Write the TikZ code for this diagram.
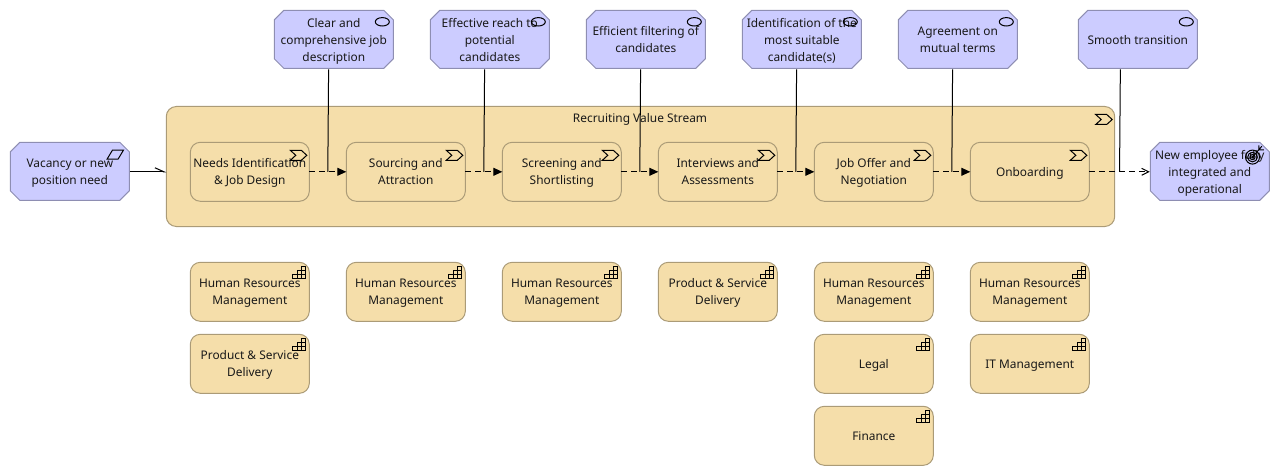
\documentclass[tikz,border=0pt]{standalone}
\usepackage{fontspec}
\setmainfont{Noto Sans}
\usepackage{xcolor}
\usepackage{tikz}
\usetikzlibrary{arrows.meta,positioning,calc}

\definecolor{bluefill}{HTML}{CCCCFF}
\definecolor{blueline}{HTML}{8E8EB2}
\definecolor{sandfill}{HTML}{F5DEAA}
\definecolor{sandline}{HTML}{AB9B77}

\begin{document}
\begin{tikzpicture}[
    x=1pt, y=-1pt,
    line width=1pt,
    every node/.style={font=\fontsize{11.9}{17}\selectfont, align=center, inner sep=0pt, outer sep=0pt,
                       text=black!90, text depth=0pt},
    octa/.style={rectangle, minimum width=120pt, minimum height=60pt,
                 path picture={
                     \draw[draw=blueline, fill=bluefill, line width=1pt]
                         ([shift={(0.5,10)}]path picture bounding box.north west) -- ++(9.5,-9.5) -- ++(100,0) -- ++(9.5,9.5)
                         -- ++(0,39) -- ++(-9.5,9.5) -- ++(-100,0) -- ++(-9.5,-9.5) -- cycle;}},
    rbox/.style={rectangle, rounded corners=10pt, draw=sandline, fill=sandfill,
                 minimum width=119pt, minimum height=59pt},
    flow/.style={dashed, dash pattern=on 6pt off 4pt, -{Triangle[length=9pt,width=8pt]}},
    flowend/.style={dashed, dash pattern=on 6pt off 4pt, -{Straight Barb[length=7pt,width=7pt]}},
    trig/.style={-{Straight Barb[harpoon,length=9pt,width=8pt]}},
    chevicon/.pic={\draw[line width=1pt] (-19,8) -- (-8,8) -- (-2.5,13) -- (-8,18) -- (-19,18) -- (-13.5,13) -- cycle;},
    ovalicon/.pic={\draw[line width=1pt] (-11.5,12) ellipse (7 and 4.2);},
    paraicon/.pic={\draw[line width=1pt] (-22.7,17.3) -- (-17.3,8.3) -- (-6.3,8.3) -- (-11.7,17.3) -- cycle;},
    stairicon/.pic={\draw[line width=1pt] (-16.4,16.3) -- (-3.7,16.3) -- (-3.7,3.7) -- (-7.9,3.7) -- (-7.9,16.3)
        (-12.2,16.3) -- (-12.2,8) -- (-3.7,8) (-16.4,16.3) -- (-16.4,12.1) -- (-3.7,12.1) (-7.9,3.7) -- (-7.9,8);},
    goalicon/.pic={
        \draw[line width=1pt] (-17.3,15.3) circle (7) (-17.3,15.3) circle (4.8) (-17.3,15.3) circle (2.6);
        \fill (-17.3,15.3) circle (1.5);
        \draw[line width=1pt] (-17.3,15.3) -- (-8,4.5) (-11,3.5) -- (-11,8) -- (-6,8);},
]
% triggering start
\node[octa] (need) at (69.8,171.8) {Vacancy or new\\position need};

% value stream
\node[rbox, minimum width=948.4pt, minimum height=120pt] (stream) at (640.5,166.5) {};
\node (streamtitle) at (640,118) {Recruiting Value Stream};

\node[rbox] (needs) at (249.8,171.8) {Needs Identification\\\& Job Design};
\node[rbox, right=37pt of needs] (sourcing) {Sourcing and\\Attraction};
\node[rbox, right=37pt of sourcing] (screening) {Screening and\\Shortlisting};
\node[rbox, right=37pt of screening] (interviews) {Interviews and\\Assessments};
\node[rbox, right=37pt of interviews] (offer) {Job Offer and\\Negotiation};
\node[rbox, right=37pt of offer] (onboarding) {Onboarding};

\node[octa, right=60.5pt of onboarding] (employee) {New employee fully\\integrated and\\operational};

% outcomes
\node[octa] (clear) at (333.8,39.8) {Clear and\\comprehensive job\\description};
\node[octa, right=36pt of clear] (reach) {Effective reach to\\potential\\candidates};
\node[octa, right=36pt of reach] (filtering) {Efficient filtering of\\candidates};
\node[octa, right=36pt of filtering] (suitable) {Identification of the\\most suitable\\candidate(s)};
\node[octa, right=36pt of suitable] (terms) {Agreement on\\mutual terms};
\node[octa, right=60pt of terms] (smooth) {Smooth transition};

% capabilities
\node[rbox, below=61pt of needs] (hr1) {Human Resources\\Management};
\node[rbox, below=13pt of hr1] (psd1) {Product \& Service\\Delivery};
\node[rbox, below=61pt of sourcing] (hr2) {Human Resources\\Management};
\node[rbox, below=61pt of screening] (hr3) {Human Resources\\Management};
\node[rbox, below=61pt of interviews] (psd2) {Product \& Service\\Delivery};
\node[rbox, below=61pt of offer] (hr4) {Human Resources\\Management};
\node[rbox, below=13pt of hr4] (legal) {Legal};
\node[rbox, below=13pt of legal] (finance) {Finance};
\node[rbox, below=61pt of onboarding] (hr5) {Human Resources\\Management};
\node[rbox, below=13pt of hr5] (itm) {IT Management};

% junctions on the flows
\coordinate (j1) at ($(needs.east)!0.5!(sourcing.west)$);
\coordinate (j2) at ($(sourcing.east)!0.5!(screening.west)$);
\coordinate (j3) at ($(screening.east)!0.5!(interviews.west)$);
\coordinate (j4) at ($(interviews.east)!0.5!(offer.west)$);
\coordinate (j5) at ($(offer.east)!0.5!(onboarding.west)$);
\coordinate (j6) at ($(onboarding.east)!0.5!(employee.west)$);

\draw[trig] (need) -- (stream.west |- need);
\draw[flow] (needs) -- (sourcing);
\draw[flow] (sourcing) -- (screening);
\draw[flow] (screening) -- (interviews);
\draw[flow] (interviews) -- (offer);
\draw[flow] (offer) -- (onboarding);
\draw[flowend] (onboarding) -- (employee);

\draw ([shift={(0.8,-0.5)}]j1 |- clear.south) -- (j1);
\draw ([shift={(0.8,-0.5)}]j2 |- reach.south) -- (j2);
\draw ([shift={(0.8,-0.5)}]j3 |- filtering.south) -- (j3);
\draw ([shift={(0.8,-0.5)}]j4 |- suitable.south) -- (j4);
\draw ([shift={(0.8,-0.5)}]j5 |- terms.south) -- (j5);
\draw ([shift={(0.8,-0.5)}]j6 |- smooth.south) -- (j6);

% icons
\pic at (need.north east) {paraicon};
\pic at (employee.north east) {goalicon};
\pic at (stream.north east) {chevicon};
\pic at (needs.north east) {chevicon};
\pic at (sourcing.north east) {chevicon};
\pic at (screening.north east) {chevicon};
\pic at (interviews.north east) {chevicon};
\pic at (offer.north east) {chevicon};
\pic at (onboarding.north east) {chevicon};
\pic at (clear.north east) {ovalicon};
\pic at (reach.north east) {ovalicon};
\pic at (filtering.north east) {ovalicon};
\pic at (suitable.north east) {ovalicon};
\pic at (terms.north east) {ovalicon};
\pic at (smooth.north east) {ovalicon};
\pic at (hr1.north east) {stairicon};
\pic at (psd1.north east) {stairicon};
\pic at (hr2.north east) {stairicon};
\pic at (hr3.north east) {stairicon};
\pic at (psd2.north east) {stairicon};
\pic at (hr4.north east) {stairicon};
\pic at (legal.north east) {stairicon};
\pic at (finance.north east) {stairicon};
\pic at (hr5.north east) {stairicon};
\pic at (itm.north east) {stairicon};

\useasboundingbox (0,0) rectangle (1280,476);
\end{tikzpicture}
\end{document}
